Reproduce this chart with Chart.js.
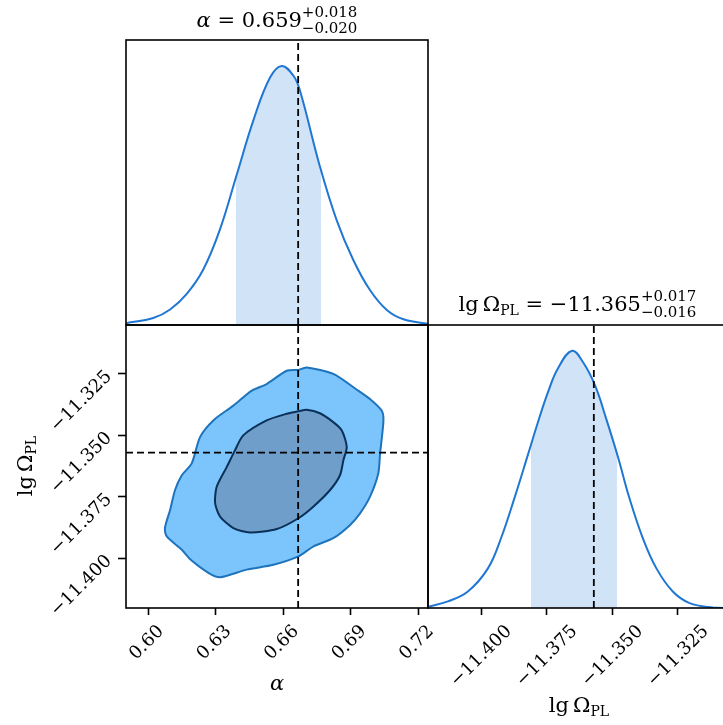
<!DOCTYPE html>
<html>
<head>
<meta charset="utf-8">
<script src="https://cdn.jsdelivr.net/npm/chart.js@4.4.1/dist/chart.umd.min.js"></script>
<style>
  html, body { margin: 0; padding: 0; overflow: hidden; background: #fff; width: 723px; height: 725px; }
  canvas { position: absolute; left: 0; top: 0; }
</style>
</head>
<body>
<canvas id="histAlpha" width="730" height="725"></canvas>
<canvas id="contour" width="730" height="725"></canvas>
<canvas id="histLg" width="730" height="725"></canvas>
<script>
// axis limits
const alphaRange = [0.5902, 0.7244];
const lgRange = [-11.4202, -11.3051];

// tick values / labels
const alphaTicks = [0.60, 0.63, 0.66, 0.69, 0.72];
const alphaTickLabels = ['0.60', '0.63', '0.66', '0.69', '0.72'];
const lgTicks = [-11.400, -11.375, -11.350, -11.325];
const lgTickLabels = ['\u221211.400', '\u221211.375', '\u221211.350', '\u221211.325'];

// injected (true) values
const truthAlpha = 0.6667;
const truthLg = -11.357;

// 1D marginal of alpha (normalised to peak)
const alphaGrid = [0.5902, 0.6023, 0.6098, 0.6172, 0.6246, 0.6320, 0.6394, 0.6468, 0.6542, 0.6594,
  0.6646, 0.6675, 0.6764, 0.6838, 0.6912, 0.6986, 0.7061, 0.7135, 0.7244];
const alphaDensity = [0.007, 0.027, 0.060, 0.120, 0.215, 0.370, 0.580, 0.790, 0.955, 1.0,
  0.962, 0.905, 0.611, 0.405, 0.251, 0.135, 0.058, 0.022, 0.005];
const alphaBand = [0.639, 0.677];

// 1D marginal of lg Omega_PL
const lgGrid = [-11.4202, -11.4126, -11.4050, -11.3973, -11.3923, -11.3872, -11.3821, -11.3783, -11.3745,
  -11.3707, -11.3653, -11.3611, -11.3565, -11.3523, -11.3478, -11.3434, -11.3383, -11.3332, -11.3269,
  -11.3205, -11.3116, -11.3051];
const lgDensity = [0.005, 0.026, 0.064, 0.155, 0.273, 0.429, 0.596, 0.722, 0.838,
  0.931, 1.0, 0.955, 0.864, 0.736, 0.587, 0.426, 0.271, 0.155, 0.064,
  0.019, 0.002, 0.0];
const lgBand = [-11.381, -11.348];

// 2D credible contours (outer = 2 sigma, inner = 1 sigma)
const outerAlpha = [0.6668, 0.6705, 0.6823, 0.6934, 0.6986, 0.7038, 0.7046, 0.7031, 0.7023, 0.6986, 0.6942,
  0.6898, 0.6823, 0.6734, 0.6668, 0.6557, 0.6438, 0.6320, 0.6268, 0.6186, 0.6150, 0.6083, 0.6075, 0.6098,
  0.6120, 0.6150, 0.6194, 0.6231, 0.6290, 0.6379, 0.6461, 0.6527, 0.6616];
const outerLg = [-11.3234, -11.3224, -11.3250, -11.3318, -11.3352, -11.3399, -11.3439, -11.3574, -11.3655,
  -11.3750, -11.3817, -11.3864, -11.3918, -11.3952, -11.3992, -11.4026, -11.4046, -11.4077, -11.4059,
  -11.4003, -11.3965, -11.3911, -11.3877, -11.3803, -11.3722, -11.3662, -11.3614, -11.3507, -11.3439,
  -11.3379, -11.3318, -11.3291, -11.3237];
const innerAlpha = [0.6668, 0.6705, 0.6764, 0.6823, 0.6861, 0.6883, 0.6868, 0.6853, 0.6809, 0.6734, 0.6668,
  0.6572, 0.6453, 0.6379, 0.6320, 0.6298, 0.6305, 0.6350, 0.6386, 0.6423, 0.6527, 0.6616];
const innerLg = [-11.3402, -11.3396, -11.3410, -11.3446, -11.3480, -11.3547, -11.3601, -11.3662, -11.3722,
  -11.3790, -11.3837, -11.3881, -11.3895, -11.3877, -11.3830, -11.3776, -11.3709, -11.3628, -11.3561,
  -11.3500, -11.3439, -11.3412];

// title texts
const alphaTitle = ['0.659', '+0.018', '\u22120.020'];
const lgTitle = ['\u221211.365', '+0.017', '\u22120.016'];

const W = 730, H = 725;
const SERIF = '"DejaVu Serif"';
const lineBlue = '#1f77d3';
const bandBlue = '#d0e3f7';

const toPts = (xs, ys) => xs.map((x, i) => ({ x: x, y: ys[i] }));
const closed = (xs, ys) => { const p = toPts(xs, ys); p.push(p[0]); return p; };

// stroke the box around the plot area
const framePlugin = {
  id: 'frame',
  afterDraw(chart) {
    const { ctx, chartArea: a } = chart;
    ctx.save();
    ctx.strokeStyle = '#000';
    ctx.lineWidth = 1.6;
    ctx.strokeRect(a.left, a.top, a.right - a.left, a.bottom - a.top);
    ctx.restore();
  }
};

// text with sub/superscripts, centred on cx
function drawRich(ctx, parts, cx, base) {
  let total = 0;
  parts.forEach(p => {
    ctx.font = p.font;
    p.w = p.stack ? Math.max(ctx.measureText(p.stack[0]).width, ctx.measureText(p.stack[1]).width)
                  : ctx.measureText(p.text).width;
    total += p.w + (p.gap || 0);
  });
  let x = cx - total / 2;
  ctx.fillStyle = '#000';
  ctx.textAlign = 'left';
  ctx.textBaseline = 'alphabetic';
  parts.forEach(p => {
    ctx.font = p.font;
    if (p.stack) {
      ctx.fillText(p.stack[0], x, base + p.up);
      ctx.fillText(p.stack[1], x, base + p.down);
    } else {
      ctx.fillText(p.text, x, base + (p.dy || 0));
    }
    x += p.w + (p.gap || 0);
  });
}

const big = '21px ' + SERIF;
const small = '15px ' + SERIF;
const lgOmegaParts = () => [
  { text: 'lg', font: big, gap: 4 },
  { text: '\u03A9', font: big },
  { text: 'PL', font: '14px ' + SERIF, dy: 4 }
];

function textPlugin(fn) {
  return { id: 'richText', afterDraw(chart) { const c = chart.ctx; c.save(); fn(c); c.restore(); } };
}

// band under the curve, done with a hard-stop gradient
function bandFill(band) {
  return function (context) {
    const chart = context.chart;
    const { ctx, chartArea, scales } = chart;
    if (!chartArea) return 'rgba(0,0,0,0)';
    const w = chartArea.right - chartArea.left;
    const f0 = Math.min(Math.max((scales.x.getPixelForValue(band[0]) - chartArea.left) / w, 0), 1);
    const f1 = Math.min(Math.max((scales.x.getPixelForValue(band[1]) - chartArea.left) / w, 0), 1);
    const g = ctx.createLinearGradient(chartArea.left, 0, chartArea.right, 0);
    const none = 'rgba(208,227,247,0)';
    g.addColorStop(0, none);
    g.addColorStop(f0, none);
    g.addColorStop(f0, bandBlue);
    g.addColorStop(f1, bandBlue);
    g.addColorStop(f1, none);
    g.addColorStop(1, none);
    return g;
  };
}

const tickFont = { family: SERIF, size: 18 };
const tickGrid = { drawOnChartArea: false, drawTicks: true, tickLength: 7, tickWidth: 1.6, tickColor: '#000' };

function curveDataset(xs, ys, band) {
  return {
    data: toPts(xs, ys),
    showLine: true,
    borderColor: lineBlue,
    borderWidth: 2,
    pointRadius: 0,
    tension: 0.4,
    fill: 'origin',
    backgroundColor: bandFill(band),
    order: 2
  };
}

function dashed(points) {
  return {
    data: points,
    showLine: true,
    borderColor: '#000',
    borderWidth: 1.8,
    borderDash: [7, 4],
    pointRadius: 0,
    fill: false,
    order: 1
  };
}

const baseOptions = {
  responsive: false,
  animation: false,
  events: [],
  plugins: { legend: { display: false }, tooltip: { enabled: false } }
};

// top-left: marginal of alpha
new Chart(document.getElementById('histAlpha'), {
  type: 'scatter',
  data: {
    datasets: [
      curveDataset(alphaGrid, alphaDensity, alphaBand),
      dashed([{ x: truthAlpha, y: 0 }, { x: truthAlpha, y: 1.1 }])
    ]
  },
  options: Object.assign({}, baseOptions, {
    layout: { padding: { left: 126, top: 40, right: W - 428, bottom: H - 325 } },
    scales: {
      x: { type: 'linear', min: alphaRange[0], max: alphaRange[1], display: false },
      y: { type: 'linear', min: 0, max: 1.1, display: false }
    }
  }),
  plugins: [framePlugin, textPlugin(ctx => {
    drawRich(ctx, [
      { text: '\u03B1', font: 'italic ' + big },
      { text: ' = ' + alphaTitle[0], font: big },
      { stack: [alphaTitle[1], alphaTitle[2]], font: small, up: -9.5, down: 6.5 }
    ], 277, 26.7);
  })]
});

// bottom-left: 2D contours
new Chart(document.getElementById('contour'), {
  type: 'scatter',
  data: {
    datasets: [
      {
        data: closed(outerAlpha, outerLg), showLine: true, fill: 'shape',
        backgroundColor: '#7cc5fc', borderColor: '#1e74bc', borderWidth: 2,
        pointRadius: 0, tension: 0.25, order: 4
      },
      {
        data: closed(innerAlpha, innerLg), showLine: true, fill: 'shape',
        backgroundColor: '#6f9ecb', borderColor: '#0b3058', borderWidth: 2,
        pointRadius: 0, tension: 0.25, order: 3
      },
      dashed([{ x: truthAlpha, y: lgRange[0] }, { x: truthAlpha, y: lgRange[1] }]),
      dashed([{ x: alphaRange[0], y: truthLg }, { x: alphaRange[1], y: truthLg }])
    ]
  },
  options: Object.assign({}, baseOptions, {
    layout: { padding: { left: 0, top: 325, right: W - 428, bottom: 0 } },
    scales: {
      x: {
        type: 'linear', position: 'bottom', min: alphaRange[0], max: alphaRange[1],
        afterFit: s => { s.height = H - 608; },
        afterBuildTicks: s => { s.ticks = alphaTicks.map(v => ({ value: v })); },
        ticks: {
          autoSkip: false, minRotation: 45, maxRotation: 45, labelOffset: 13, padding: 6,
          font: tickFont, color: '#000', callback: (v, i) => alphaTickLabels[i]
        },
        grid: tickGrid,
        border: { display: false }
      },
      y: {
        type: 'linear', position: 'left', min: lgRange[0], max: lgRange[1],
        afterFit: s => { s.width = 126; },
        afterBuildTicks: s => { s.ticks = lgTicks.map(v => ({ value: v })); },
        ticks: {
          autoSkip: false, minRotation: 45, maxRotation: 45, padding: 9,
          font: tickFont, color: '#000', callback: (v, i) => lgTickLabels[i]
        },
        grid: Object.assign({}, tickGrid, { tickLength: 8 }),
        border: { display: false }
      }
    }
  }),
  plugins: [framePlugin, textPlugin(ctx => {
    drawRich(ctx, [{ text: '\u03B1', font: 'italic ' + big }], 277, 690);
    ctx.translate(32, 466);
    ctx.rotate(-Math.PI / 2);
    drawRich(ctx, lgOmegaParts(), 0, 0);
  })]
});

// bottom-right: marginal of lg Omega_PL
new Chart(document.getElementById('histLg'), {
  type: 'scatter',
  data: {
    datasets: [
      curveDataset(lgGrid, lgDensity, lgBand),
      dashed([{ x: truthLg, y: 0 }, { x: truthLg, y: 1.1 }])
    ]
  },
  options: Object.assign({}, baseOptions, {
    layout: { padding: { left: 428, top: 325, right: 0, bottom: 0 } },
    scales: {
      x: {
        type: 'linear', position: 'bottom', min: lgRange[0], max: lgRange[1],
        afterFit: s => { s.height = H - 608; },
        afterBuildTicks: s => { s.ticks = lgTicks.map(v => ({ value: v })); },
        ticks: {
          autoSkip: false, minRotation: 45, maxRotation: 45, labelOffset: 28, padding: 6,
          font: tickFont, color: '#000', callback: (v, i) => lgTickLabels[i]
        },
        grid: tickGrid,
        border: { display: false }
      },
      y: { type: 'linear', min: 0, max: 1.1, display: false }
    }
  }),
  plugins: [framePlugin, textPlugin(ctx => {
    drawRich(ctx, lgOmegaParts(), 579, 711.5);
    drawRich(ctx, lgOmegaParts().concat([
      { text: ' = ' + lgTitle[0], font: big },
      { stack: [lgTitle[1], lgTitle[2]], font: small, up: -10, down: 5.7 }
    ]), 577.5, 311);
  })]
});
</script>
</body>
</html>
